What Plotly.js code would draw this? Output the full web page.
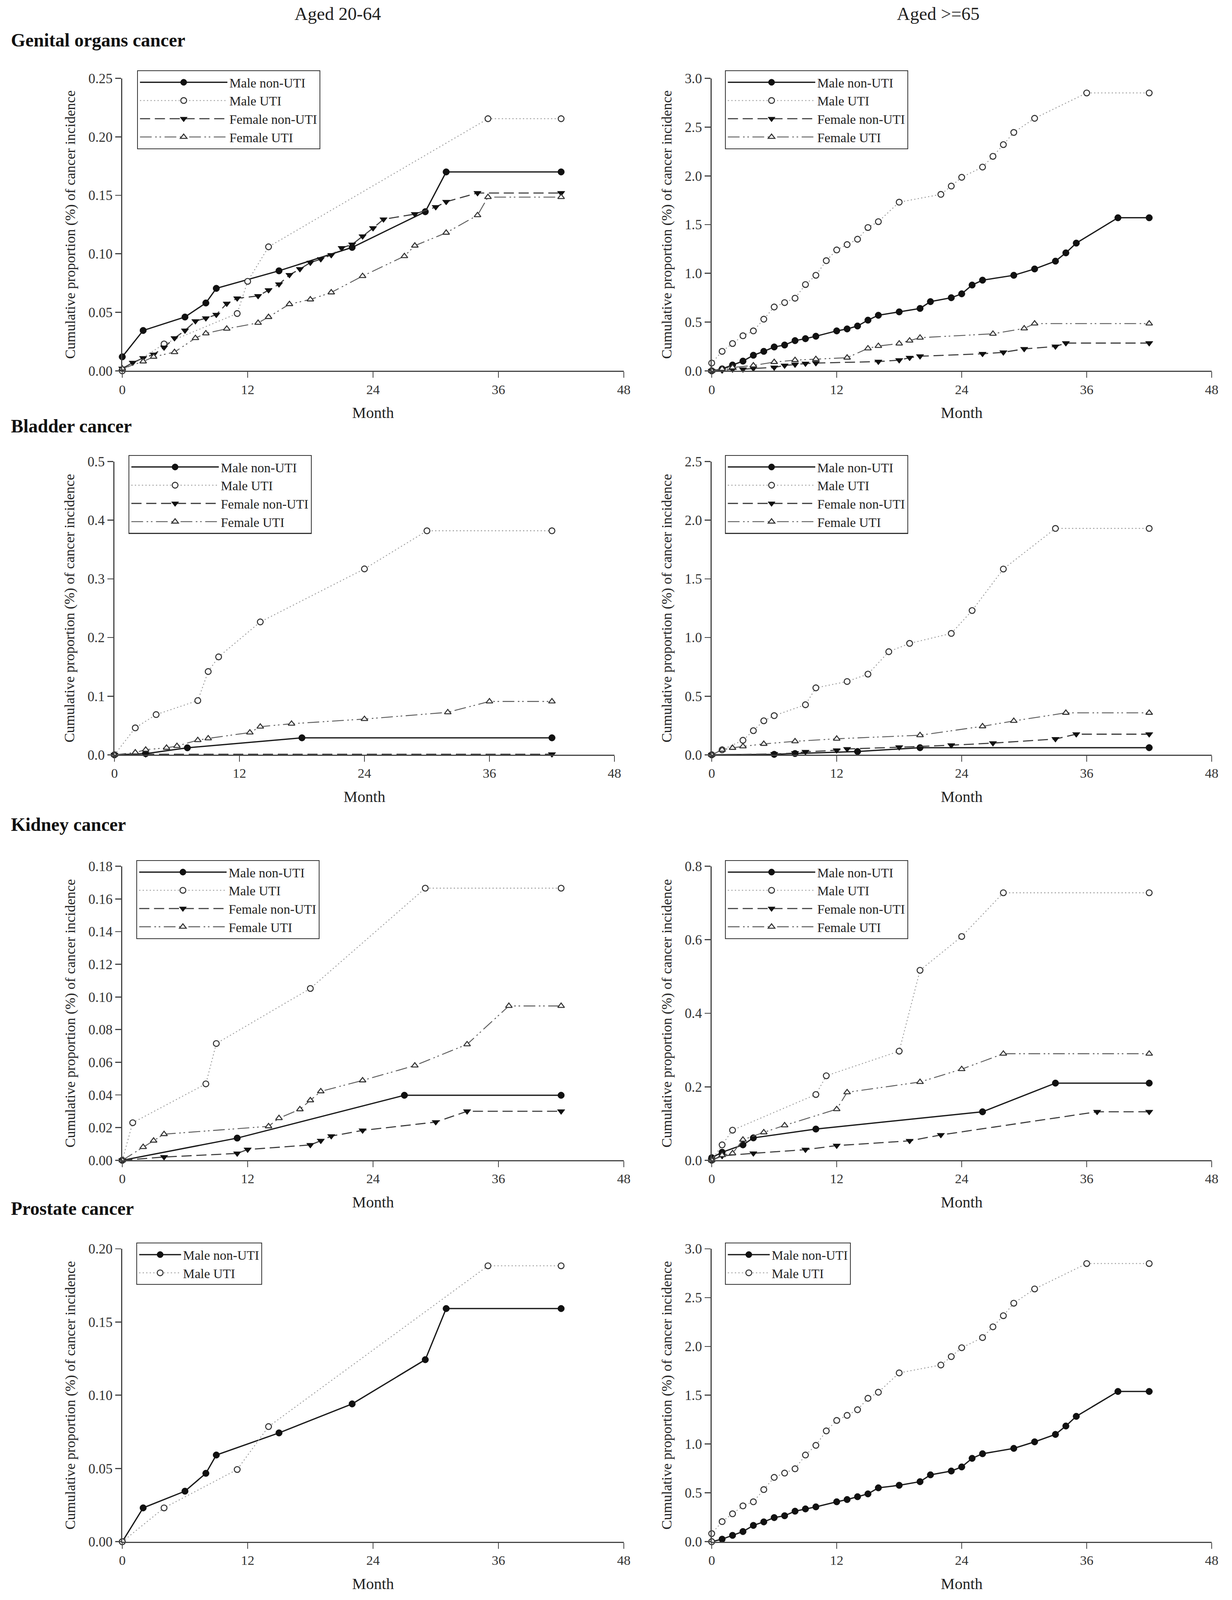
<!DOCTYPE html>
<html>
<head>
<meta charset="utf-8">
<script src="https://cdn.plot.ly/plotly-3.0.1.min.js"></script>
<style>
  html, body { margin: 0; padding: 0; background: #fff; overflow: hidden; }
</style>
</head>
<body>
<div id="plot"></div>
<script>
// ---- data (month, cumulative %) ----
var seriesNames = ["Male non-UTI", "Male UTI", "Female non-UTI", "Female UTI"];
var monthTicks = [0, 12, 24, 36, 48];

// Genital organs, aged 20-64
var gen2064_maleNon_x = [0, 2, 6, 8, 9, 15, 22, 29, 31, 42];
var gen2064_maleNon_y = [0.012, 0.0345, 0.046, 0.058, 0.0705, 0.0855, 0.1055, 0.136, 0.170, 0.170];
var gen2064_maleUti_x = [0, 4, 11, 12, 14, 35, 42];
var gen2064_maleUti_y = [0, 0.023, 0.049, 0.0765, 0.106, 0.2155, 0.2155];
var gen2064_femNon_x = [0, 1, 2, 3, 4, 5, 6, 7, 8, 9, 10, 11, 13, 14, 15, 16, 17, 18, 19, 20, 21, 22, 23, 24, 25, 28, 30, 31, 34, 42];
var gen2064_femNon_y = [0.002, 0.007, 0.011, 0.014, 0.020, 0.028, 0.0345, 0.0425, 0.045, 0.048, 0.0575, 0.062, 0.064, 0.069, 0.074, 0.082, 0.087, 0.0925, 0.0955, 0.099, 0.105, 0.108, 0.115, 0.122, 0.1295, 0.134, 0.140, 0.1445, 0.152, 0.152];
var gen2064_femUti_x = [0, 2, 3, 5, 7, 8, 10, 13, 14, 16, 18, 20, 23, 27, 28, 31, 34, 35, 42];
var gen2064_femUti_y = [0.002, 0.008, 0.012, 0.016, 0.028, 0.032, 0.036, 0.041, 0.046, 0.057, 0.061, 0.067, 0.081, 0.098, 0.107, 0.118, 0.133, 0.1485, 0.1485];

// Genital organs, aged >=65
var gen65_maleNon_x = [0, 1, 2, 3, 4, 5, 6, 7, 8, 9, 10, 12, 13, 14, 15, 16, 18, 20, 21, 23, 24, 25, 26, 29, 31, 33, 34, 35, 39, 42];
var gen65_maleNon_y = [0, 0.02, 0.06, 0.10, 0.16, 0.20, 0.245, 0.265, 0.31, 0.33, 0.355, 0.41, 0.43, 0.46, 0.52, 0.57, 0.605, 0.64, 0.71, 0.75, 0.79, 0.88, 0.93, 0.98, 1.045, 1.125, 1.21, 1.31, 1.57, 1.57];
var gen65_maleUti_x = [0, 0, 1, 2, 3, 4, 5, 6, 7, 8, 9, 10, 11, 12, 13, 14, 15, 16, 18, 22, 23, 24, 26, 27, 28, 29, 31, 36, 42];
var gen65_maleUti_y = [0, 0.08, 0.20, 0.28, 0.36, 0.41, 0.53, 0.655, 0.70, 0.745, 0.885, 0.98, 1.13, 1.24, 1.295, 1.35, 1.47, 1.53, 1.73, 1.81, 1.895, 1.985, 2.09, 2.20, 2.32, 2.445, 2.59, 2.85, 2.85];
var gen65_femNon_x = [0, 1, 2, 3, 4, 6, 7, 8, 9, 10, 16, 18, 19, 20, 26, 28, 30, 33, 34, 42];
var gen65_femNon_y = [0, 0.005, 0.015, 0.016, 0.025, 0.035, 0.055, 0.065, 0.075, 0.08, 0.095, 0.11, 0.135, 0.15, 0.175, 0.19, 0.225, 0.25, 0.285, 0.285];
var gen65_femUti_x = [0, 1, 2, 4, 6, 8, 10, 13, 15, 16, 18, 19, 20, 27, 30, 31, 42];
var gen65_femUti_y = [0, 0.02, 0.035, 0.055, 0.09, 0.11, 0.12, 0.135, 0.23, 0.255, 0.28, 0.31, 0.34, 0.38, 0.435, 0.485, 0.485];

// Bladder, aged 20-64
var bla2064_maleNon_x = [0, 3, 7, 18, 42];
var bla2064_maleNon_y = [0, 0.002, 0.012, 0.029, 0.029];
var bla2064_maleUti_x = [0, 2, 4, 8, 9, 10, 14, 24, 30, 42];
var bla2064_maleUti_y = [0, 0.046, 0.0686, 0.0925, 0.142, 0.167, 0.2266, 0.317, 0.382, 0.382];
var bla2064_femNon_x = [0, 3, 42];
var bla2064_femNon_y = [0, 0.001, 0.001];
var bla2064_femUti_x = [0, 2, 3, 5, 6, 8, 9, 13, 14, 17, 24, 32, 36, 42];
var bla2064_femUti_y = [0, 0.004, 0.0087, 0.012, 0.015, 0.025, 0.028, 0.038, 0.048, 0.053, 0.061, 0.0725, 0.091, 0.091];

// Bladder, aged >=65
var bla65_maleNon_x = [0, 6, 8, 14, 20, 42];
var bla65_maleNon_y = [0, 0.004, 0.011, 0.028, 0.061, 0.061];
var bla65_maleUti_x = [0, 1, 3, 4, 5, 6, 9, 10, 13, 15, 17, 19, 23, 25, 28, 33, 42];
var bla65_maleUti_y = [0, 0.043, 0.124, 0.206, 0.29, 0.334, 0.427, 0.571, 0.625, 0.688, 0.879, 0.95, 1.035, 1.23, 1.584, 1.93, 1.93];
var bla65_femNon_x = [0, 6, 8, 9, 12, 13, 18, 23, 27, 33, 35, 42];
var bla65_femNon_y = [0, 0.007, 0.015, 0.026, 0.039, 0.05, 0.065, 0.082, 0.10, 0.135, 0.176, 0.176];
var bla65_femUti_x = [0, 1, 2, 3, 5, 8, 12, 20, 26, 29, 34, 42];
var bla65_femUti_y = [0, 0.043, 0.059, 0.072, 0.093, 0.115, 0.137, 0.167, 0.243, 0.289, 0.358, 0.358];

// Kidney, aged 20-64
var kid2064_maleNon_x = [0, 11, 27, 42];
var kid2064_maleNon_y = [0, 0.0136, 0.0398, 0.0398];
var kid2064_maleUti_x = [0, 1, 8, 9, 18, 29, 42];
var kid2064_maleUti_y = [0, 0.023, 0.0468, 0.0715, 0.1052, 0.1666, 0.1666];
var kid2064_femNon_x = [0, 4, 11, 12, 18, 19, 20, 23, 30, 33, 42];
var kid2064_femNon_y = [0, 0.002, 0.0042, 0.0066, 0.0094, 0.012, 0.0148, 0.0183, 0.0234, 0.030, 0.030];
var kid2064_femUti_x = [0, 2, 3, 4, 14, 15, 17, 18, 19, 23, 28, 33, 37, 42];
var kid2064_femUti_y = [0, 0.0081, 0.012, 0.016, 0.0208, 0.0258, 0.0312, 0.0367, 0.0422, 0.0489, 0.058, 0.071, 0.0945, 0.0945];

// Kidney, aged >=65
var kid65_maleNon_x = [0, 1, 3, 4, 10, 26, 33, 42];
var kid65_maleNon_y = [0.007, 0.022, 0.042, 0.061, 0.085, 0.132, 0.21, 0.21];
var kid65_maleUti_x = [0, 1, 2, 10, 11, 18, 20, 24, 28, 42];
var kid65_maleUti_y = [0, 0.042, 0.082, 0.179, 0.23, 0.297, 0.517, 0.609, 0.728, 0.728];
var kid65_femNon_x = [0, 1, 4, 9, 12, 19, 22, 37, 42];
var kid65_femNon_y = [0, 0.012, 0.019, 0.029, 0.04, 0.053, 0.069, 0.132, 0.132];
var kid65_femUti_x = [0, 1, 2, 3, 5, 7, 12, 13, 20, 24, 28, 42];
var kid65_femUti_y = [0, 0.014, 0.019, 0.056, 0.076, 0.095, 0.139, 0.185, 0.213, 0.248, 0.29, 0.29];

// Prostate, aged 20-64
var pro2064_maleNon_x = [0, 2, 6, 8, 9, 15, 22, 29, 31, 42];
var pro2064_maleNon_y = [0, 0.0231, 0.0345, 0.0467, 0.0592, 0.0743, 0.0941, 0.1243, 0.1592, 0.1592];
var pro2064_maleUti_x = [0, 4, 11, 14, 35, 42];
var pro2064_maleUti_y = [0, 0.0231, 0.0493, 0.0786, 0.1884, 0.1884];

// Prostate, aged >=65
var pro65_maleNon_x = [0, 1, 2, 3, 4, 5, 6, 7, 8, 9, 10, 12, 13, 14, 15, 16, 18, 20, 21, 23, 24, 25, 26, 29, 31, 33, 34, 35, 39, 42];
var pro65_maleNon_y = [0, 0.026, 0.065, 0.104, 0.167, 0.203, 0.247, 0.266, 0.3125, 0.336, 0.357, 0.409, 0.432, 0.461, 0.49, 0.552, 0.578, 0.615, 0.685, 0.724, 0.766, 0.854, 0.901, 0.956, 1.023, 1.099, 1.185, 1.284, 1.539, 1.539];
var pro65_maleUti_x = [0, 0, 1, 2, 3, 4, 5, 6, 7, 8, 9, 10, 11, 12, 13, 14, 15, 16, 18, 22, 23, 24, 26, 27, 28, 29, 31, 36, 42];
var pro65_maleUti_y = [0, 0.083, 0.206, 0.286, 0.367, 0.409, 0.534, 0.659, 0.703, 0.747, 0.888, 0.987, 1.135, 1.242, 1.294, 1.352, 1.469, 1.531, 1.729, 1.81, 1.896, 1.987, 2.091, 2.201, 2.315, 2.443, 2.589, 2.849, 2.849];

// ---- sizing: the design is laid out on a 3154 x 4392 sheet and fitted to the window ----
var FONT = "Liberation Serif, Times New Roman, serif";
var W0 = 3154, H0 = 4392;
var W = window.innerWidth || W0, H = window.innerHeight || H0;
var k = Math.min(W / W0, H / H0);
function s(v) { return v * k; }

var plotDiv = document.getElementById("plot");
plotDiv.style.width = W + "px";
plotDiv.style.height = H + "px";

var styles = [
  { line: { color: "#1a1a1a", width: s(3.5), dash: "solid" },
    marker: { symbol: "circle", size: s(18), color: "#111", line: { color: "#111", width: 1 } } },
  { line: { color: "#9a9a9a", width: s(2.5), dash: "3px,6px" },
    marker: { symbol: "circle", size: s(16), color: "#fff", line: { color: "#333", width: s(2.8) } } },
  { line: { color: "#3a3a3a", width: s(3), dash: "26px,12px" },
    marker: { symbol: "triangle-down", size: s(18), color: "#111", line: { color: "#111", width: 1 } } },
  { line: { color: "#5a5a5a", width: s(2.5), dash: "30px,9px,4px,7px,4px,9px" },
    marker: { symbol: "triangle-up", size: s(16), color: "#fff", line: { color: "#333", width: s(2.8) } } }
];

// plot-area box in sheet pixels -> paper domains
function px2dom(x0, x1, y0, y1) {
  return { x: [x0 / W0, x1 / W0], y: [1 - y1 / H0, 1 - y0 / H0] };
}

var panels = [
  { box: px2dom(313, 1597, 215, 1018), yr: 0.25, dt: 0.05, fmt: ".2f", leg: [351, 193],
    s: [[gen2064_maleNon_x, gen2064_maleNon_y], [gen2064_maleUti_x, gen2064_maleUti_y], [gen2064_femNon_x, gen2064_femNon_y], [gen2064_femUti_x, gen2064_femUti_y]] },
  { box: px2dom(1822, 3102, 215, 1018), yr: 3.0, dt: 0.5, fmt: ".1f", leg: [1856, 193],
    s: [[gen65_maleNon_x, gen65_maleNon_y], [gen65_maleUti_x, gen65_maleUti_y], [gen65_femNon_x, gen65_femNon_y], [gen65_femUti_x, gen65_femUti_y]] },
  { box: px2dom(293, 1573, 1267, 2072), yr: 0.5, dt: 0.1, fmt: ".1f", leg: [329, 1249],
    s: [[bla2064_maleNon_x, bla2064_maleNon_y], [bla2064_maleUti_x, bla2064_maleUti_y], [bla2064_femNon_x, bla2064_femNon_y], [bla2064_femUti_x, bla2064_femUti_y]] },
  { box: px2dom(1822, 3102, 1267, 2072), yr: 2.5, dt: 0.5, fmt: ".1f", leg: [1856, 1249],
    s: [[bla65_maleNon_x, bla65_maleNon_y], [bla65_maleUti_x, bla65_maleUti_y], [bla65_femNon_x, bla65_femNon_y], [bla65_femUti_x, bla65_femUti_y]] },
  { box: px2dom(313, 1597, 2378, 3185), yr: 0.18, dt: 0.02, fmt: ".2f", leg: [349, 2361],
    s: [[kid2064_maleNon_x, kid2064_maleNon_y], [kid2064_maleUti_x, kid2064_maleUti_y], [kid2064_femNon_x, kid2064_femNon_y], [kid2064_femUti_x, kid2064_femUti_y]] },
  { box: px2dom(1822, 3102, 2378, 3185), yr: 0.8, dt: 0.2, fmt: ".1f", leg: [1856, 2361],
    s: [[kid65_maleNon_x, kid65_maleNon_y], [kid65_maleUti_x, kid65_maleUti_y], [kid65_femNon_x, kid65_femNon_y], [kid65_femUti_x, kid65_femUti_y]] },
  { box: px2dom(313, 1597, 3428, 4232), yr: 0.20, dt: 0.05, fmt: ".2f", leg: [349, 3411],
    s: [[pro2064_maleNon_x, pro2064_maleNon_y], [pro2064_maleUti_x, pro2064_maleUti_y]] },
  { box: px2dom(1822, 3102, 3428, 4232), yr: 3.0, dt: 0.5, fmt: ".1f", leg: [1856, 3411],
    s: [[pro65_maleNon_x, pro65_maleNon_y], [pro65_maleUti_x, pro65_maleUti_y]] }
];

var traces = [];
var layout = {
  width: W, height: H,
  margin: { l: 0, r: 0, t: 0, b: 0 },
  paper_bgcolor: "#fff", plot_bgcolor: "#fff",
  font: { family: FONT, color: "#222", size: s(34) },
  annotations: []
};

panels.forEach(function (p, i) {
  var n = i + 1, suf = n === 1 ? "" : String(n);
  p.s.forEach(function (xy, j) {
    traces.push({
      x: xy[0], y: xy[1],
      type: "scatter", mode: "lines+markers",
      name: seriesNames[j],
      xaxis: "x" + suf, yaxis: "y" + suf,
      legend: "legend" + suf,
      cliponaxis: false,
      line: styles[j].line, marker: styles[j].marker
    });
  });
  layout["xaxis" + suf] = {
    domain: p.box.x, anchor: "y" + suf,
    range: [0, 48], tickvals: monthTicks, ticktext: monthTicks.map(String),
    showline: true, linecolor: "#444", linewidth: s(3),
    ticks: "outside", ticklen: s(16), tickwidth: s(3), tickcolor: "#444",
    showgrid: false, zeroline: false,
    tickfont: { family: FONT, size: s(37), color: "#333" },
    title: { text: "Month", font: { family: FONT, size: s(43), color: "#222" }, standoff: s(30) }
  };
  layout["yaxis" + suf] = {
    domain: p.box.y, anchor: "x" + suf,
    range: [0, p.yr], dtick: p.dt, tick0: 0, tickformat: p.fmt,
    showline: true, linecolor: "#444", linewidth: s(3),
    ticks: "outside", ticklen: s(16), tickwidth: s(3), tickcolor: "#444",
    showgrid: false, zeroline: false,
    tickfont: { family: FONT, size: s(38), color: "#333" },
    title: { text: "Cumulative proportion (%) of cancer incidence",
             font: { family: FONT, size: s(39), color: "#222" }, standoff: s(24) }
  };
  layout["legend" + suf] = {
    x: p.leg[0] / W0, y: 1 - p.leg[1] / H0, xanchor: "left", yanchor: "top",
    bgcolor: "#fff", bordercolor: "#333", borderwidth: s(2.5),
    font: { family: FONT, size: s(36), color: "#222" },
    itemwidth: p.s.length > 2 ? s(240) : s(115),
    tracegroupgap: 0
  };
});

// column and row headings
layout.annotations.push(
  { text: "Aged 20-64", x: 864 / W0, y: 1 - 37 / H0, xref: "paper", yref: "paper",
    xanchor: "center", yanchor: "middle", showarrow: false,
    font: { family: FONT, size: s(50), color: "#222" } },
  { text: "Aged >=65", x: 2402 / W0, y: 1 - 37 / H0, xref: "paper", yref: "paper",
    xanchor: "center", yanchor: "middle", showarrow: false,
    font: { family: FONT, size: s(50), color: "#222" } }
);
var rowTitles = ["Genital organs cancer", "Bladder cancer", "Kidney cancer", "Prostate cancer"];
var rowTitleY = [110, 1170, 2264, 3318];
rowTitles.forEach(function (t, r) {
  layout.annotations.push({
    text: "<b>" + t + "</b>", x: 26 / W0, y: 1 - rowTitleY[r] / H0, xref: "paper", yref: "paper",
    xanchor: "left", yanchor: "middle", showarrow: false,
    font: { family: FONT, size: s(51), color: "#111" }
  });
});

Plotly.newPlot(plotDiv, traces, layout, { staticPlot: true });
</script>
</body>
</html>
